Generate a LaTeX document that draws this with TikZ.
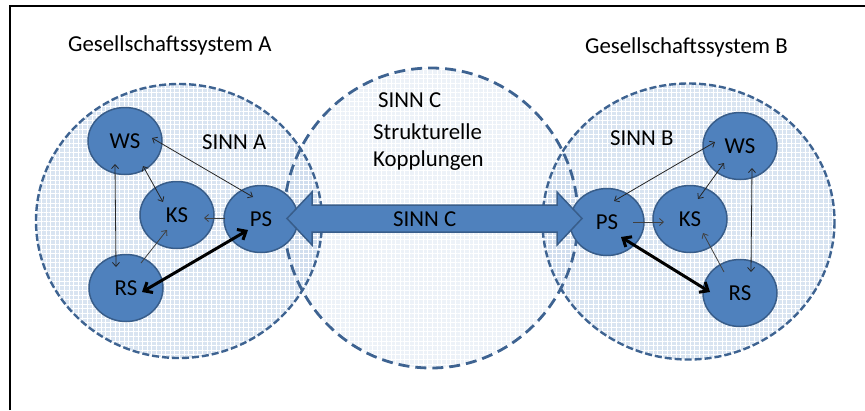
\documentclass[tikz,border=0pt]{standalone}
\usepackage{fontspec}
\setmainfont{Carlito}
\usetikzlibrary{shapes.geometric,arrows.meta,calc,patterns.meta}
\definecolor{nodeblue}{HTML}{4F81BD}
\definecolor{nodeedge}{HTML}{385D8A}
\definecolor{ringedge}{HTML}{3E6391}
\definecolor{ringfill}{HTML}{B9CDE5}
\begin{document}
\begin{tikzpicture}[x=1bp,y=-1bp,
		font=\fontsize{22.8bp}{27bp}\selectfont,
		subsys/.style={ellipse,draw=nodeedge,line width=1.5bp,fill=nodeblue,minimum width=74bp,minimum height=67bp,inner sep=0pt},
		ringA/.style={draw=ringedge,line width=2.4bp,dash pattern=on 7bp off 3bp},
		ringC/.style={draw=ringedge,line width=2.8bp,dash pattern=on 11bp off 6bp},
		grid/.style={pattern={Lines[angle=#1,distance=4.6bp,line width=0.8bp]},pattern color=white,fill opacity=0.45},
		thinarr/.style={{Straight Barb[length=4bp,width=7bp]}-{Straight Barb[length=4bp,width=7bp]},line width=0.8bp,black!85},
		onearr/.style={-{Straight Barb[length=4bp,width=7bp]},line width=0.8bp,black!75},
		thickarr/.style={{Straight Barb[length=7bp,width=12bp]}-{Straight Barb[length=7bp,width=12bp]},line width=3bp,black},
		lbl/.style={anchor=base west,inner sep=0pt}]
		\useasboundingbox (0,0) rectangle (865,410);
		\draw[line width=2bp] (10,410) -- (10,6.2) -- (865,6.2);
		\fill[ringfill,fill opacity=0.55] (179,221) ellipse [x radius=143,y radius=137];
		\fill[ringfill,fill opacity=0.55] (688.5,221.5) ellipse [x radius=146,y radius=138];
		\fill[ringfill,fill opacity=0.25] (431,218) ellipse [x radius=147,y radius=150];
		\foreach \a in {0,90} {
			\path[grid=\a] (179,221) ellipse [x radius=143,y radius=137];
			\path[grid=\a] (688.5,221.5) ellipse [x radius=146,y radius=138];
			\path[grid=\a] (431,218) ellipse [x radius=147,y radius=150];
		}
		\draw[ringA] (179,221) ellipse [x radius=143,y radius=137];
		\draw[ringA] (688.5,221.5) ellipse [x radius=146,y radius=138];
		\draw[ringC] (431,218) ellipse [x radius=147,y radius=150];
		\node[lbl] (gesA) at (68,51.7) {Gesellschaftssystem A};
		\node[lbl] (gesB) at (585,53) {Gesellschaftssystem B};
		\node[lbl] (sinnA) at (202,149) {SINN A};
		\node[lbl] (sinnB) at (610,145) {SINN B};
		\node[lbl] (sinnC) at (378,107.7) {SINN C};
		\node[lbl] (struk) at (373,139.3) {Strukturelle};
		\node[lbl] (kopp) at (373,166) {Kopplungen};
		\node[subsys] (wsA) at (125,141) {WS};
		\node[subsys] (ksA) at (177,215) {KS};
		\node[subsys] (psA) at (261,219) {PS};
		\node[subsys] (rsA) at (126,288) {RS};
		\node[subsys] (wsB) at (740,146) {WS};
		\node[subsys] (ksB) at (690,219) {KS};
		\node[subsys] (psB) at (607,222) {PS};
		\node[subsys] (rsB) at (740,293) {RS};
		\draw[thinarr] ($(wsA)+(-10,23)$) -- ($(rsA)+(-10,-21)$);
		\draw[thinarr] ($(wsA)+(18,25)$) -- ($(ksA)+(-14,-13)$);
		\draw[thinarr] ($(wsA)+(27,-3)$) -- ($(psA)+(-8,-22)$);
		\draw[onearr] ($(psA)+(-36,-1)$) -- ($(ksA)+(27,3)$);
		\draw[onearr] ($(rsA)+(15,-25)$) -- ($(ksA)+(-10,15)$);
		\draw[thickarr] ($(rsA)+(16,4)$) -- ($(psA)+(-13,11)$);
		\draw[thinarr] ($(psB)+(7,-21)$) -- ($(wsB)+(-25,-4)$);
		\draw[thinarr] ($(wsB)+(-16,17)$) -- ($(ksB)+(8,-20)$);
		\draw[thinarr] ($(wsB)+(12,22)$) -- ($(rsB)+(11,-21)$);
		\draw[onearr] ($(psB)+(26,0)$) -- ($(ksB)+(-26,3)$);
		\draw[onearr] ($(rsB)+(-16,-21)$) -- ($(ksB)+(13,14)$);
		\draw[thickarr] ($(psB)+(14,15)$) -- ($(rsB)+(-30,-1)$);
		\draw[draw=nodeedge,line width=1.5bp,fill=nodeblue] (287,218.5) -- (312,192) -- (312,205) -- (557,205) -- (557,192) -- (582,218.5) -- (557,245) -- (557,232) -- (312,232) -- (312,245) -- cycle;
		\node[lbl] (sinnCarrow) at (393,226.7) {SINN C};
\end{tikzpicture}
\end{document}
